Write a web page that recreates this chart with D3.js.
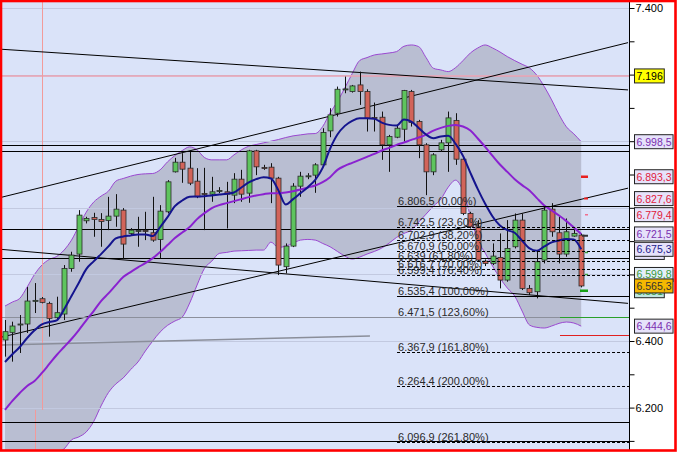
<!DOCTYPE html>
<html><head><meta charset="utf-8">
<script src="https://cdn.jsdelivr.net/npm/d3@7"></script>
<style>html,body{margin:0;padding:0;background:#fff;} svg{display:block;} text{font-family:"Liberation Sans",Arial,sans-serif;}</style>
</head><body><svg id="c" width="677" height="452"></svg>
<script>
// ---------- DATA ----------
const opens  = [6403,6426,6449,6451,6520,6527,6513,6470,6481,6618, 6661,6761,6771,6765,6762,6775,6793,6723,6730,6732, 6725,6705,6788,6908,6937,6919,6880,6843,6841,6850, 6848,6838,6886,6844,6971,6921,6922,6889,6623,6685, 6865,6894,6898,6929,7031,7084,7155,7149,7169,7149, 7071,7072,6989,7012,7036,7149,7059,6989,6908,6974, 6995,7062,6946,6783,6743,6640,6633,6651,6583,6683, 6763,6558,6548,6643,6796,6725,6661,6715,6718];
const highs  = [6463,6458,6478,6562,6574,6532,6518,6533,6628,6668, 6793,6773,6785,6784,6833,6841,6799,6739,6773,6788, 6833,6808,6883,6950,6964,6968,6919,6920,6893,6862, 6878,6904,6914,6974,6974,6929,6934,6893,6693,6874, 6908,6904,6934,7039,7099,7164,7194,7169,7209,7156, 7116,7089,7019,7049,7154,7154,7064,6994,6964,7004, 7089,7084,6949,6788,6763,6645,6693,6723,6763,6783, 6783,6568,6673,6805,6814,6773,6768,6738,6723];
const lows   = [6353,6338,6364,6424,6484,6513,6413,6463,6463,6608, 6638,6753,6713,6683,6733,6743,6646,6718,6683,6703, 6698,6648,6783,6906,6875,6868,6829,6733,6818,6844, 6738,6814,6818,6815,6898,6914,6814,6598,6603,6682, 6833,6886,6845,6923,7012,7074,7144,7146,7109,7029, 7029,6944,6908,7009,6999,7044,6949,6838,6898,6968, 6908,6929,6778,6738,6638,6625,6628,6558,6578,6678, 6553,6538,6528,6633,6713,6633,6653,6713,6561];
const closes = [6428,6445,6451,6520,6522,6516,6468,6485,6618,6658, 6778,6768,6765,6759,6775,6796,6691,6733,6732,6730, 6703,6790,6878,6937,6916,6874,6833,6841,6848,6852, 6841,6886,6841,6971,6923,6919,6889,6628,6685,6865, 6895,6896,6929,7026,7079,7156,7157,7166,7149,7069, 7069,6989,7014,7039,7152,7056,6989,6908,6959,6995, 7070,6946,6783,6743,6643,6633,6655,6583,6678,6763, 6558,6545,6638,6793,6728,6661,6728,6723,6565.3];

const maFast = [6337,6360,6382,6409,6432,6450,6457,6462,6495,6535, 6575,6616,6639,6661,6684,6708,6714,6717,6720,6720, 6715,6742,6772,6805,6822,6833,6834,6835,6837,6840, 6842,6846,6861,6876,6886,6892,6888,6853,6810,6826, 6844,6862,6884,6920,6977,7020,7046,7061,7069,7069, 7067,7056,7049,7047,7065,7059,7040,7020,7009,7014, 7016,6992,6956,6905,6856,6812,6774,6747,6733,6725, 6701,6678,6671,6684,6696,6702,6706,6705,6675.3];
const maSlow = [6193,6220,6244,6265,6280,6304,6331,6358,6382,6406, 6433,6462,6490,6520,6543,6568,6592,6607,6621,6634, 6649,6667,6688,6709,6726,6742,6766,6784,6799,6808, 6814,6820,6826,6832,6837,6841,6844,6844,6846,6850, 6855,6861,6867,6877,6892,6914,6926,6935,6944,6953, 6962,6972,6980,6989,6996,7004,7011,7020,7032,7040, 7046,7049,7044,7032,7008,6983,6956,6930,6908,6886, 6868,6852,6829,6807,6792,6777,6760,6741,6721.5];
const bandUpper = [6505,6517,6528,6562,6600,6628,6645,6654,6673,6703, 6745,6787,6817,6835,6850,6880,6888,6895,6900,6902, 6903,6914,6938,6957,6972,6983,6974,6951,6944,6944, 6944,6959,6974,6985,6990,6995,7000,7005,7011,7016, 7019,7022,7023,7044,7085,7119,7160,7203,7242,7251, 7259,7262,7265,7269,7285,7289,7284,7251,7219,7214, 7209,7221,7242,7265,7280,7289,7280,7268,7254,7242, 7231,7220,7198,7164,7124,7080,7043,7022,6998.5];
const bandLower = [5880,5923,5960,5968,5960,5980,6017,6062,6076,6103, 6112,6127,6158,6205,6245,6271,6289,6314,6337,6370, 6400,6427,6447,6460,6472,6514,6568,6618,6640,6663, 6666,6670,6671,6672,6673,6673,6697,6681,6685,6694, 6703,6705,6703,6693,6683,6669,6655,6646,6652,6661, 6669,6679,6694,6711,6723,6733,6757,6781,6805,6826, 6862,6883,6850,6775,6703,6664,6625,6589,6559,6535, 6490,6448,6441,6439,6445,6453,6457,6454,6444.6];

const fibPercents = [0, 23.6, 38.2, 50, 61.8, 70, 76.4, 100, 123.6, 161.8, 200, 261.8];
const fibValues   = [6806.5, 6742.5, 6702.9, 6670.9, 6639, 6616.7, 6599.4, 6535.4, 6471.5, 6367.9, 6264.4, 6096.9];
const fibStartIndex = 53.07;

const supportLevels = [6988.6, 6971.5, 6735, 6648, 6156, 6101];
const gridLevels = [7400, 7200, 7000, 6800, 6600, 6400, 6200];
const axisTicks = [6100,6200,6300,6400,6500,6600,6700,6800,6900,7000,7100,7200,7300,7400];
const axisLabelled = [7400, 6400, 6200];

// trend lines: [startIndex, startValue, endIndex, endValue]
const trendLines = [[-0.41, 7276, 84.34, 7154], [-0.41, 6832, 84.34, 7296], [-0.41, 6675, 84.34, 6513], [-0.41, 6412, 84.34, 6859]];
const greyTrend = [-0.41, 6388, 49.4, 6415];

const cursorValue = 7196, cursorIndexTop = 5.08, cursorIndexBottom = 4.13, cursorSplit = 6193;
const shortLevels = [6471.5, 6418];   // green, red
const shortStartIndex = 75.13;

const markerValues = [6893.3, 6827.6, 6779.4, 6716, 6666, 6599.8, 6551];
const boxValues = [6599.8, 6551, 6666, 7196, 6998.5, 6893.3, 6827.6, 6779.4, 6721.5, 6675.3, 6565.3, 6444.6];

// ---------- STYLES ----------
const GREEN = "#5ec45e", RED = "#d2645a", RED_T = "#e0203a", PURP_T = "#7b2fb0", NAVY_T = "#20208a", GRN_T = "#3a9a3a", BOXBG = "#e6e2fa";
const boxStyle = {
  "7196": ["#ffff00", "#000"], "6998.5": [BOXBG, PURP_T], "6893.3": [BOXBG, RED_T], "6827.6": [BOXBG, RED_T],
  "6779.4": [BOXBG, RED_T], "6721.5": [BOXBG, PURP_T], "6675.3": [BOXBG, NAVY_T], "6666": [BOXBG, GRN_T],
  "6599.8": ["#e4eefa", GRN_T], "6551": ["#bfe6e0", GRN_T], "6565.3": ["#f5b800", "#333"], "6444.6": [BOXBG, PURP_T]
};
const markerStyle = [["#e82020", 7, 2.5], ["#e82020", 4, 2], ["#f07090", 3, 1.5], ["#333", 6, 2], ["#40a040", 3, 1.5], ["#40a040", 3, 1.5], ["#18a018", 8, 2.5]];

// ---------- DRAW ----------
const loc = d3.formatLocale({decimal: ",", thousands: ".", grouping: [3], currency: ["", ""]});
const f0 = loc.format(",.0f"), f1 = loc.format(",.1f"), fp = loc.format(".2f");
const fmtVal = v => Number.isInteger(v) ? f0(v) : f1(v);

const svg = d3.select("#c");
const PX0 = 2, PX1 = 629.5, PY0 = 2, PY1 = 450;
const x = d3.scaleLinear().domain([0, 78]).range([5, 581.2]);
const y = d3.scaleLinear().domain([6200, 7400]).range([407.6, 8]);
const idx = d3.range(opens.length);

svg.append("rect").attr("width", 677).attr("height", 452).attr("fill", "#fff");
svg.append("rect").attr("x", PX0).attr("y", PY0).attr("width", PX1 - PX0).attr("height", PY1 - PY0).attr("fill", "#dae3f9");
svg.append("clipPath").attr("id", "clip").append("rect").attr("x", PX0).attr("y", PY0).attr("width", PX1 - PX0).attr("height", PY1 - PY0);
const g = svg.append("g").attr("clip-path", "url(#clip)");

// bollinger band
g.append("path").datum(idx).attr("fill", "#b9bed2")
  .attr("d", d3.area().x(i => x(i)).y0(i => y(bandLower[i])).y1(i => y(bandUpper[i])).curve(d3.curveMonotoneX));
[bandUpper, bandLower].forEach(arr => g.append("path").datum(idx).attr("fill", "none").attr("stroke", "#9a48d0").attr("stroke-width", 1)
  .attr("d", d3.line().x(i => x(i)).y(i => y(arr[i])).curve(d3.curveMonotoneX)));

// grid
g.selectAll(".grid").data(gridLevels).join("line").attr("x1", PX0).attr("x2", PX1)
  .attr("y1", d => Math.round(y(d)) + 0.5).attr("y2", d => Math.round(y(d)) + 0.5).attr("stroke", "#c2c9e0").attr("stroke-width", 1);

// cursor
g.append("line").attr("x1", PX0).attr("x2", PX1).attr("y1", y(cursorValue)).attr("y2", y(cursorValue)).attr("stroke", "#eaa0b0").attr("stroke-width", 1.5);
g.append("line").attr("x1", x(cursorIndexTop)).attr("x2", x(cursorIndexTop)).attr("y1", PY0).attr("y2", y(cursorSplit)).attr("stroke", "#f29a9a").attr("stroke-width", 1);
g.append("line").attr("x1", x(cursorIndexBottom)).attr("x2", x(cursorIndexBottom)).attr("y1", y(cursorSplit)).attr("y2", PY1).attr("stroke", "#f29a9a").attr("stroke-width", 1);

// support lines
g.selectAll(".sup").data(supportLevels).join("line").attr("x1", PX0).attr("x2", PX1)
  .attr("y1", d => Math.round(y(d)) + 0.5).attr("y2", d => Math.round(y(d)) + 0.5).attr("stroke", "#000").attr("stroke-width", 1);

// trend lines
g.selectAll(".tr").data(trendLines).join("line")
  .attr("x1", d => x(d[0])).attr("y1", d => y(d[1])).attr("x2", d => x(d[2])).attr("y2", d => y(d[3]))
  .attr("stroke", "#000").attr("stroke-width", 1);
g.append("line").attr("x1", x(greyTrend[0])).attr("y1", y(greyTrend[1])).attr("x2", x(greyTrend[2])).attr("y2", y(greyTrend[3]))
  .attr("stroke", "#8a8e9a").attr("stroke-width", 1.5);

// fib 123.6 full width grey
const fib1236 = fibValues[fibPercents.indexOf(123.6)];
g.append("line").attr("x1", PX0).attr("x2", PX1).attr("y1", Math.round(y(fib1236)) + 0.5).attr("y2", Math.round(y(fib1236)) + 0.5).attr("stroke", "#8c909c").attr("stroke-width", 1);

// short levels
g.selectAll(".short").data(shortLevels).join("line").attr("x1", x(shortStartIndex)).attr("x2", PX1)
  .attr("y1", d => Math.round(y(d)) + 0.5).attr("y2", d => Math.round(y(d)) + 0.5)
  .attr("stroke", (d, i) => i === 0 ? "#2aa02a" : "#e02020").attr("stroke-width", 1);

// candles
const cg = g.append("g");
idx.forEach(i => {
  const cx = Math.round(x(i)) + 0.5;
  const up = closes[i] >= opens[i];
  cg.append("line").attr("x1", cx).attr("x2", cx).attr("y1", y(highs[i])).attr("y2", y(lows[i])).attr("stroke", "#111").attr("stroke-width", 1);
  const top = y(Math.max(opens[i], closes[i])), bot = y(Math.min(opens[i], closes[i]));
  cg.append("rect").attr("x", cx - 2.5).attr("width", 5).attr("y", top).attr("height", Math.max(1, bot - top))
    .attr("fill", up ? GREEN : RED).attr("stroke", "#2a2a2a").attr("stroke-width", 0.8);
});

// moving averages
g.append("path").datum(idx).attr("fill", "none").attr("stroke", "#8a22d0").attr("stroke-width", 2)
  .attr("d", d3.line().x(i => x(i)).y(i => y(maSlow[i])).curve(d3.curveMonotoneX));
g.append("path").datum(idx).attr("fill", "none").attr("stroke", "#14148e").attr("stroke-width", 2)
  .attr("d", d3.line().x(i => x(i)).y(i => y(maFast[i])).curve(d3.curveMonotoneX));

// fib lines + labels
fibValues.forEach((v, k) => {
  const yy = Math.round(y(v)) + 0.5;
  const pct = fibPercents[k];
  const solid = pct === 0 || pct === 100;
  if (pct !== 123.6) {
    g.append("line").attr("x1", x(fibStartIndex)).attr("x2", PX1).attr("y1", yy).attr("y2", yy)
      .attr("stroke", "#000").attr("stroke-width", 1).attr("stroke-dasharray", solid ? null : "3,2");
  }
  g.append("text").attr("x", x(fibStartIndex) + 1).attr("y", yy - 2).attr("font-size", 11).attr("fill", "#2a2a2a")
    .text(fmtVal(v) + " (" + fp(pct) + "%)");
});

// markers
markerValues.forEach((v, k) => {
  const [col, w, th] = markerStyle[k];
  g.append("line").attr("x1", 588 - w).attr("x2", 588).attr("y1", y(v)).attr("y2", y(v)).attr("stroke", col).attr("stroke-width", th);
});

// axis
svg.append("line").attr("x1", PX1).attr("x2", PX1).attr("y1", PY0).attr("y2", PY1).attr("stroke", "#000");
const ax = svg.append("g").attr("transform", `translate(${PX1},0)`)
  .call(d3.axisRight(y).tickValues(axisTicks).tickSize(5).tickPadding(1).tickFormat(d => axisLabelled.includes(d) ? f0(d) : ""));
ax.select(".domain").remove();
ax.selectAll("text").attr("font-size", 11).attr("fill", "#000").attr("font-family", "Liberation Sans, Arial, sans-serif");
ax.selectAll("line").attr("stroke", "#000");

// value boxes
boxValues.forEach(v => {
  const [bg, fg] = boxStyle[String(v)];
  const cy = y(v);
  const gb = svg.append("g");
  const r = gb.append("rect").attr("x", 634.5).attr("y", cy - 7).attr("height", 14).attr("fill", bg).attr("stroke", "#222").attr("stroke-width", 1);
  const t = gb.append("text").attr("x", 636.5).attr("y", cy + 4).attr("font-size", 10.5).attr("fill", fg).text(fmtVal(v));
  const w = t.node().getComputedTextLength();
  r.attr("width", w + 3.5);
});

// red frame
svg.append("rect").attr("x", 1).attr("y", 1).attr("width", 674.5).attr("height", 449.5).attr("fill", "none").attr("stroke", "#ff0000").attr("stroke-width", 2.6);
</script></body></html>
